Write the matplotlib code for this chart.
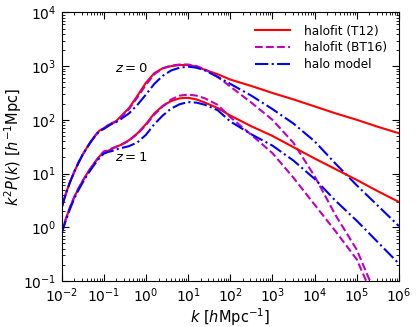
import numpy as np
import matplotlib
matplotlib.use("Agg")
import matplotlib.pyplot as plt

plt.rcParams['mathtext.fontset'] = 'dejavusans'

# log10 k  [h/Mpc]
logk = [-2.0, -1.9, -1.8, -1.7, -1.6, -1.5, -1.4, -1.3, -1.2, -1.1, -1.0, -0.9,
        -0.8, -0.7, -0.6, -0.4, -0.2, 0.0, 0.2, 0.4, 0.6, 0.8, 1.0, 1.2, 1.4,
        1.7, 2.0, 2.5, 3.0, 3.5, 4.0, 4.5, 5.0, 5.5, 6.0]

# log10 k^2 P(k), z = 0
t12_z0 = [0.36, 0.62, 0.84, 1.03, 1.20, 1.35, 1.48, 1.60, 1.71, 1.80, 1.84, 1.90,
          1.94, 1.98, 2.06, 2.22, 2.45, 2.69, 2.87, 2.96, 3.00, 3.02, 3.02, 2.99, 2.93,
          2.85, 2.75, 2.63, 2.50, 2.38, 2.25, 2.12, 2.00, 1.87, 1.75]
bt16_z0 = [0.36, 0.62, 0.84, 1.03, 1.20, 1.35, 1.48, 1.60, 1.71, 1.80, 1.84, 1.89,
           1.93, 1.97, 2.04, 2.20, 2.42, 2.65, 2.85, 2.96, 3.01, 3.03, 3.03, 3.00, 2.94,
           2.80, 2.62, 2.32, 2.00, 1.57, 0.95, 0.22, -0.42, -1.35, -2.40]
hm_z0 = [0.36, 0.62, 0.84, 1.03, 1.20, 1.35, 1.48, 1.60, 1.70, 1.79, 1.83, 1.88,
         1.93, 1.96, 2.01, 2.12, 2.28, 2.47, 2.67, 2.82, 2.92, 2.97, 2.99, 2.97, 2.92,
         2.80, 2.67, 2.45, 2.20, 1.93, 1.60, 1.18, 0.78, 0.40, 0.02]

# z = 1
t12_z1 = [-0.10, 0.15, 0.37, 0.56, 0.72, 0.86, 0.99, 1.11, 1.22, 1.32, 1.40, 1.42,
          1.46, 1.50, 1.53, 1.62, 1.75, 1.92, 2.12, 2.26, 2.35, 2.40, 2.41, 2.38, 2.32,
          2.22, 2.08, 1.88, 1.70, 1.49, 1.28, 1.08, 0.88, 0.67, 0.47]
bt16_z1 = [-0.10, 0.15, 0.37, 0.56, 0.72, 0.86, 0.99, 1.11, 1.22, 1.32, 1.41, 1.43,
           1.47, 1.50, 1.53, 1.61, 1.74, 1.90, 2.10, 2.25, 2.38, 2.45, 2.47, 2.45, 2.40,
           2.28, 2.05, 1.72, 1.38, 0.92, 0.42, -0.08, -0.60, -1.50, -2.60]
hm_z1 = [-0.12, 0.12, 0.34, 0.53, 0.69, 0.83, 0.96, 1.08, 1.19, 1.29, 1.37, 1.40,
         1.42, 1.45, 1.47, 1.51, 1.58, 1.72, 1.92, 2.08, 2.21, 2.29, 2.33, 2.32, 2.28,
         2.18, 1.97, 1.73, 1.52, 1.24, 0.90, 0.49, 0.12, -0.28, -0.68]

k = 10**np.array(logk)

fig = plt.figure(figsize=(4.16, 3.27), dpi=100)
ax = fig.add_axes([0.148, 0.141, 0.811, 0.821])

ax.plot(k, 10**np.array(t12_z0), color='r', lw=1.5, label='halofit (T12)')
ax.plot(k, 10**np.array(bt16_z0), color='m', lw=1.5, ls='--', label='halofit (BT16)')
ax.plot(k, 10**np.array(hm_z0), color='b', lw=1.5, ls='-.', label='halo model')
ax.plot(k, 10**np.array(t12_z1), color='r', lw=1.5)
ax.plot(k, 10**np.array(bt16_z1), color='m', lw=1.5, ls='--')
ax.plot(k, 10**np.array(hm_z1), color='b', lw=1.5, ls='-.')

ax.set_xscale('log')
ax.set_yscale('log')
ax.set_xlim(1e-2, 1e6)
ax.set_ylim(1e-1, 1e4)

ax.text(0.45, 900, '$z = 0$', fontsize=9.5, ha='center', va='center')
ax.text(0.45, 20, '$z = 1$', fontsize=9.5, ha='center', va='center')

ax.set_xlabel(r'$k\ [h\mathrm{Mpc}^{-1}]$', fontsize=10.5)
ax.set_ylabel(r'$k^2P(k)\ [h^{-1}\mathrm{Mpc}]$', fontsize=10.5)
ax.xaxis.set_label_coords(0.5, -0.095)
ax.yaxis.set_label_coords(-0.112, 0.5)
ax.tick_params(which='both', direction='in', top=True, right=True, labelsize=10)
ax.tick_params(which='major', length=5, pad=4)
ax.tick_params(which='minor', length=2.5)
ax.xaxis.set_major_locator(matplotlib.ticker.LogLocator(base=10, numticks=20))
ax.xaxis.set_minor_locator(matplotlib.ticker.LogLocator(base=10, subs=np.arange(2, 10), numticks=20))

ax.legend(loc='upper right', frameon=False, fontsize=8.7, handlelength=2.9,
          handletextpad=1.1, labelspacing=0.3, borderaxespad=0.6)

plt.savefig("out.png", dpi=100)
